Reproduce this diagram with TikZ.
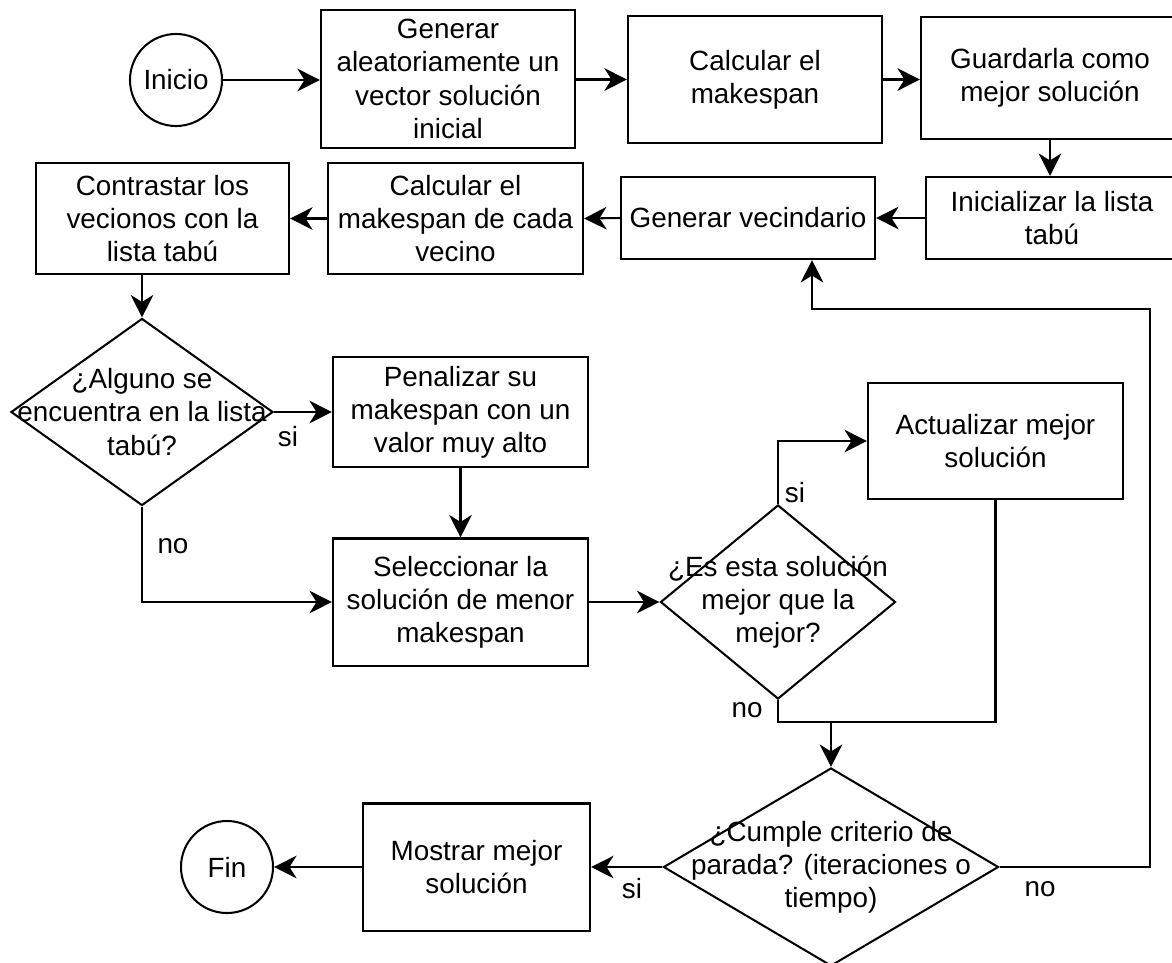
\documentclass[tikz,border=0pt]{standalone}
\usepackage{fontspec}
\setmainfont{Liberation Sans}
\usetikzlibrary{shapes.geometric,arrows.meta}

\begin{document}
\begin{tikzpicture}[x=0.025cm,y=-0.025cm,
  line width=1.45pt,
  font=\fontsize{19.8}{23.6}\selectfont,
  >={Stealth[length=16pt,width=16pt,inset=5pt]},
  proceso/.style={draw,rectangle,align=center,inner sep=0pt,minimum width=6.35cm},
  terminal/.style={draw,circle,inner sep=0pt,minimum size=2.3cm},
  decision/.style={draw,diamond,inner sep=0pt}]
\useasboundingbox (0,0) rectangle (1172,962);

\node[terminal] (inicio) at (176,80) {Inicio};
\node[proceso,minimum height=3.45cm] (genera) at (448,79) {Generar\\aleatoriamente un\\vector solución\\inicial};
\node[proceso,minimum height=3.175cm] (calc) at (755,79.5) {Calcular el\\makespan};
\node[proceso,minimum width=6.45cm,minimum height=3.05cm] (guarda) at (1050,78) {Guardarla como\\mejor solución};
\node[proceso,minimum width=6.3cm,minimum height=2.05cm] (inic) at (1052,218) {Inicializar la lista\\tabú};
\node[proceso,minimum height=2.05cm] (vecind) at (748,218) {Generar vecindario};
\node[proceso,minimum width=6.375cm,minimum height=2.775cm] (calcvec) at (455.5,218.5) {Calcular el\\makespan de cada\\vecino};
\node[proceso,minimum width=6.325cm,minimum height=2.775cm] (contrasta) at (162.5,218.5) {Contrastar los\\vecionos con la\\lista tabú};

\node[decision,minimum width=6.55cm,minimum height=4.675cm] (alguno) at (142,412) {};
\node[align=center] (alguno-t) at (alguno) {¿Alguno se\\encuentra en la lista\\tabú?};
\node[proceso,minimum width=6.375cm,minimum height=2.75cm] (penal) at (460.5,412) {Penalizar su\\makespan con un\\valor muy alto};
\node[proceso,minimum width=6.375cm,minimum height=3.175cm] (selec) at (460.5,602) {Seleccionar la\\solución de menor\\makespan};

\node[decision,minimum width=5.875cm,minimum height=4.85cm] (mejor) at (778,602) {};
\node[align=center] (mejor-t) at (mejor) {¿Es esta solución\\mejor que la\\mejor?};
\node[proceso,minimum width=6.375cm,minimum height=2.9cm] (actual) at (995.5,441) {Actualizar mejor\\solución};

\node[decision,minimum width=8.375cm,minimum height=4.95cm] (parada) at (831,867) {};
\node[align=center] (parada-t) at (parada) {¿Cumple criterio de\\parada? (iteraciones o\\tiempo)};
\node[proceso,minimum width=5.675cm,minimum height=3.175cm] (mostrar) at (476.5,867) {Mostrar mejor\\solución};
\node[terminal] (fin) at (227,867) {Fin};

\coordinate (union) at (831,722);
\coordinate (lazo1) at (1150,309);
\coordinate (lazo2) at (812,309);

\draw[->] (inicio.east) -- (inicio.east -| genera.west);
\draw[->] (genera.east |- calc) -- (calc.west);
\draw[->] (calc.east) -- (calc.east -| guarda.west);
\draw[->] (guarda.south) -- (guarda.south |- inic.north);
\draw[->] (inic.west) -- (vecind.east);
\draw[->] (vecind.west) -- (calcvec.east);
\draw[->] (calcvec.west) -- (contrasta.east);
\draw[->] (contrasta.south -| alguno.north) -- (alguno.north);
\draw[->] (alguno.east) -- (penal.west);
\draw[->] (alguno.south) |- (selec.west);
\draw[->] (penal.south) -- (selec.north);
\draw[->] (selec.east) -- (mejor.west);
\draw[->] (mejor.north) |- (actual.west);
\draw (mejor.south) |- (union);
\draw (actual.south) |- (union);
\draw[->] (union) -- (parada.north);
\draw[->] (parada.west) -- (mostrar.east);
\draw[->] (parada.east) -| (lazo1) -- (lazo2) -- (vecind.south -| lazo2);
\draw[->] (mostrar.west) -- (fin.east);

\node (si1) at (288,437) {si};
\node (no1) at (173,546) {no};
\node (si2) at (795,493) {si};
\node (no2) at (747,710) {no};
\node (si3) at (632,889) {si};
\node (no3) at (1040,889) {no};
\end{tikzpicture}
\end{document}
